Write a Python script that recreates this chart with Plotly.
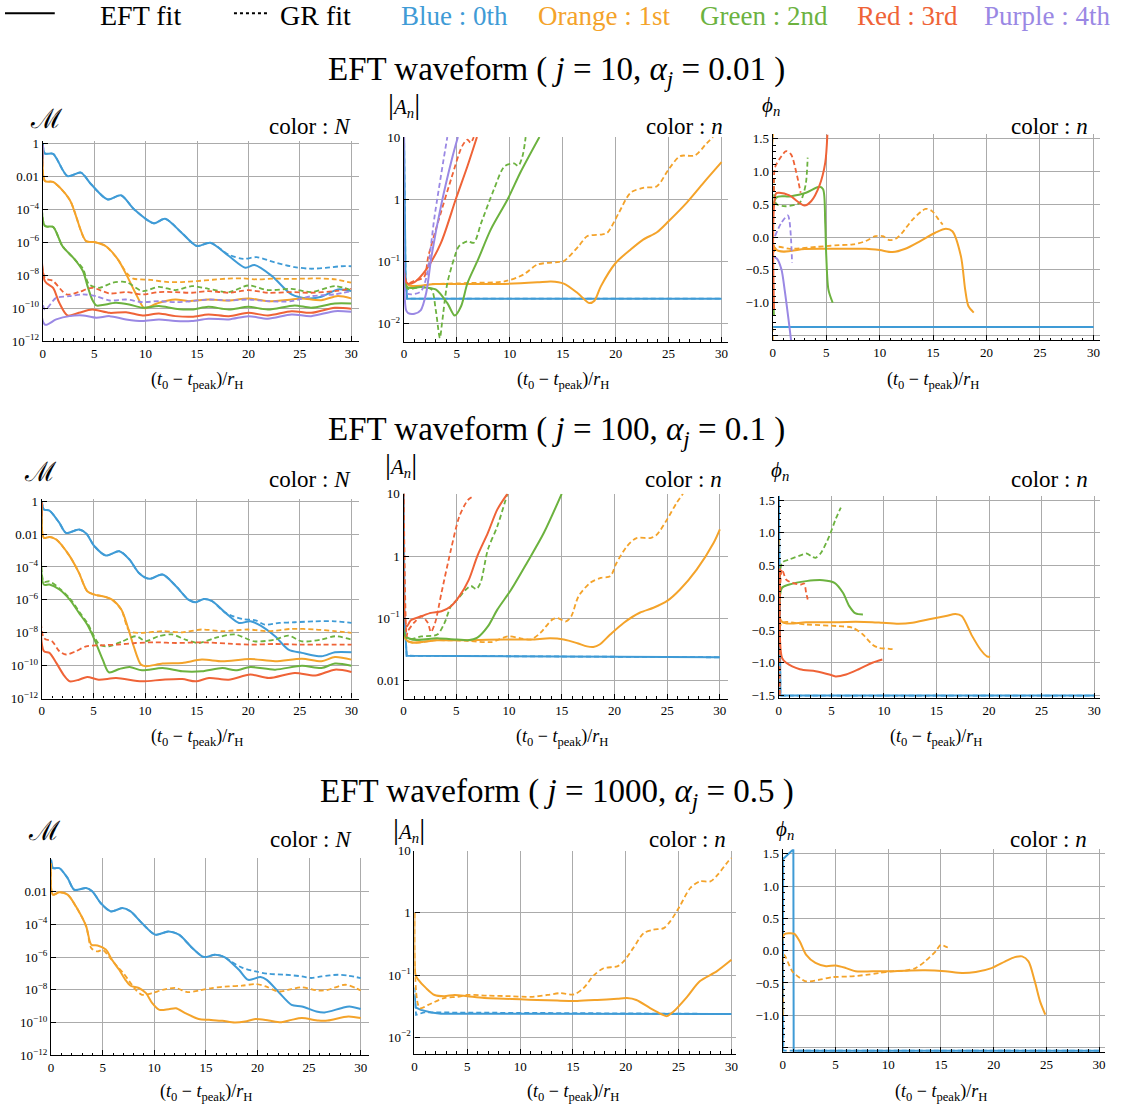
import numpy as np
import plotly.graph_objects as go

W, H = 1125, 1106
FONT = "Liberation Serif"
BLUE, ORANGE, GREEN, RED, PURPLE = "#3f9bd6", "#f4a32a", "#6cb23f", "#ef6337", "#9a88e4"

# ---------------- data (t values, and log10 values for the log panels) ----------------
# Row 1 : j = 10, alpha_j = 0.01   -- mismatch M (log10)
r1M_blue_eft = ([0, 0.2, 1.0, 2.4, 3.7, 4.7, 6.3, 7.6, 8.9, 10.8, 11.9, 13.5, 15.0, 16.3, 18.1, 19.7, 20.6, 22.3, 24.2, 25.8, 27.1, 28.7, 30],
                [0, -0.6, -0.62, -1.97, -1.76, -2.47, -3.39, -3.14, -4.0, -4.84, -4.56, -5.41, -6.22, -6.02, -6.83, -7.54, -7.38, -8.05, -9.16, -9.4, -9.3, -8.86, -8.96])
r1M_blue_gr = ([0, 0.2, 1.0, 2.4, 3.7, 4.7, 6.3, 7.6, 8.9, 10.8, 11.9, 13.5, 15.0, 16.3, 18.1, 19.5, 20.8, 22.5, 24.5, 26.0, 27.5, 29.0, 30],
               [0, -0.6, -0.62, -1.97, -1.76, -2.47, -3.39, -3.14, -4.0, -4.84, -4.56, -5.41, -6.22, -6.02, -6.75, -7.0, -6.9, -7.2, -7.5, -7.6, -7.55, -7.45, -7.45])
r1M_orange_eft = ([0, 0.2, 1.0, 2.6, 4.2, 5.0, 6.1, 7.3, 8.2, 9.0, 9.8, 10.0, 11.3, 12.9, 14.2, 16.1, 18.1, 20.0, 21.9, 24.2, 25.2, 27.1, 28.7, 30],
                  [-0.1, -2.27, -2.33, -3.39, -5.92, -5.98, -6.22, -7.03, -8.05, -9.06, -9.97, -10.0, -9.67, -9.47, -9.57, -9.47, -9.53, -9.41, -9.57, -9.47, -9.41, -9.51, -9.26, -9.40])
r1M_orange_gr = ([0, 0.2, 1.0, 2.6, 4.2, 5.0, 6.1, 7.3, 8.2, 8.8, 9.5, 10.5, 12, 13.5, 15, 16.5, 18, 19.5, 21, 22.5, 24, 25.5, 27, 28.5, 30],
                 [-0.1, -2.27, -2.33, -3.39, -5.92, -5.98, -6.22, -7.03, -7.9, -8.2, -8.25, -8.28, -8.4, -8.41, -8.35, -8.27, -8.2, -8.19, -8.25, -8.2, -8.22, -8.2, -8.19, -8.25, -8.45])
r1M_green_eft = ([0, 0.2, 1.0, 1.9, 3.1, 3.9, 4.35, 4.8, 5.2, 5.8, 7.1, 8.4, 9.7, 11.3, 12.9, 14.5, 16.1, 18.1, 20, 21.9, 24.5, 26.1, 28.4, 30],
                 [-0.1, -5.0, -5.06, -6.22, -7.03, -7.74, -8.66, -9.47, -9.83, -9.81, -9.67, -9.77, -9.97, -9.87, -10.03, -10.08, -9.91, -10.08, -9.91, -10.08, -9.83, -9.97, -9.71, -9.71])
r1M_green_gr = ([0, 0.2, 1.0, 1.9, 3.1, 3.9, 4.5, 5.5, 6.8, 8.1, 9.7, 11.3, 12.9, 14.5, 16.1, 18.1, 20, 21.9, 24.2, 26.1, 28.4, 30],
                [-0.1, -5.0, -5.06, -6.22, -7.03, -7.6, -8.55, -8.76, -8.45, -8.41, -8.96, -8.7, -8.9, -8.66, -8.82, -9.02, -8.62, -8.9, -8.82, -9.02, -8.66, -8.9])
r1M_red_eft = ([0, 0.2, 1.0, 1.6, 2.4, 3.5, 4.8, 6.5, 8.1, 9.7, 11.3, 12.9, 14.5, 16.1, 18.1, 20, 21.9, 24.2, 26.1, 28.4, 30],
               [-0.1, -8.35, -8.76, -9.67, -10.44, -10.28, -10.08, -10.28, -10.24, -10.44, -10.32, -10.48, -10.52, -10.38, -10.48, -10.28, -10.44, -10.18, -10.28, -9.97, -10.03])
r1M_red_gr = ([0, 0.2, 1.0, 2.3, 3.5, 4.8, 6.5, 8.1, 9.7, 11.3, 12.9, 14.5, 16.1, 18.1, 20, 21.9, 24.2, 26.1, 28.4, 30],
              [-0.1, -8.15, -8.35, -9.16, -9.02, -8.76, -9.1, -9.02, -9.16, -9.02, -9.02, -9.06, -8.96, -9.06, -8.9, -9.06, -9.02, -9.06, -8.96, -8.82])
r1M_purple_eft = ([0, 0.2, 1.3, 2.6, 3.9, 5.2, 6.5, 8.1, 9.7, 11.3, 12.9, 14.5, 16.1, 18.1, 20, 21.9, 24.2, 26.1, 28.4, 30],
                  [-0.1, -11.0, -10.68, -10.48, -10.44, -10.58, -10.48, -10.68, -10.78, -10.68, -10.78, -10.78, -10.64, -10.68, -10.48, -10.64, -10.38, -10.48, -10.18, -10.22])
r1M_purple_gr = ([0, 0.2, 1.3, 2.6, 3.9, 5.2, 6.5, 8.1, 9.7, 11.3, 12.9, 14.5, 16.1, 18.1, 20, 21.9, 24.2, 26.1, 28.4, 30],
                 [-0.1, -10.07, -9.37, -9.27, -9.16, -9.27, -9.53, -9.47, -9.63, -9.57, -9.63, -9.57, -9.47, -9.53, -9.47, -9.57, -9.57, -9.27, -9.16, -8.96])

# Row 1 -- |A_n| (log10)
r1A_blue_eft = ([0, 0.15, 0.3, 30], [1.3, -1.2, -1.598, -1.598])
r1A_blue_gr = ([0, 0.15, 0.3, 30], [1.3, -1.2, -1.598, -1.598])
r1A_orange_eft = ([0, 0.3, 3, 6, 9.5, 12.6, 13.9, 15.1, 16.4, 17.5, 18.0, 18.6, 20.0, 21.4, 22.6, 23.9, 25.0, 26.7, 28.3, 30],
                  [1.3, -1.36, -1.36, -1.36, -1.36, -1.335, -1.32, -1.355, -1.507, -1.668, -1.63, -1.40, -1.024, -0.81, -0.648, -0.53, -0.353, -0.057, 0.265, 0.597])
r1A_orange_gr = ([0, 0.3, 3, 6.3, 9.5, 11.3, 12.6, 14.5, 15.1, 16.5, 17.3, 18.6, 19.2, 20.3, 21.4, 22.6, 23.9, 25.0, 26.1, 27.5, 28.6, 29.2],
                 [1.3, -1.36, -1.36, -1.345, -1.32, -1.21, -1.05, -1.01, -0.995, -0.755, -0.594, -0.567, -0.54, -0.218, 0.104, 0.184, 0.21, 0.48, 0.694, 0.705, 0.9, 1.0])
r1A_green_eft = ([0, 0.3, 1.6, 3.0, 4.1, 4.8, 5.4, 6.0, 7.0, 8.2, 9.8, 11.0, 12.8],
                 [1.3, -1.41, -1.41, -1.45, -1.67, -1.87, -1.72, -1.35, -0.97, -0.487, 0.0, 0.43, 1.0])
r1A_green_gr = ([0, 0.3, 1.6, 2.6, 3.0, 3.4, 3.6, 4.1, 4.8, 5.2, 6.0, 6.6, 7.3, 8.5, 9.5, 10.4, 10.8, 11.2, 11.5],
                [1.3, -1.43, -1.41, -1.45, -1.77, -2.23, -1.99, -1.35, -0.92, -0.755, -0.675, -0.70, -0.38, 0.157, 0.53, 0.576, 0.535, 0.69, 1.0])
r1A_red_eft = ([0, 0.3, 1.0, 2.1, 3.5, 4.9, 6.0, 6.9], [1.3, -1.35, -1.33, -1.13, -0.70, 0.0, 0.53, 1.0])
r1A_red_gr = ([0, 0.3, 1.0, 1.9, 2.3, 3.2, 4.45, 5.5, 6.0, 6.3, 6.6], [1.3, -1.35, -1.31, -1.25, -0.92, -0.38, 0.32, 0.855, 0.96, 0.91, 1.0])
r1A_purple_eft = ([0, 0.2, 0.4, 1.0, 1.6, 2.1, 2.6, 3.5, 4.6, 5.1], [1.3, -1.78, -1.83, -1.84, -1.78, -1.51, -0.92, -0.11, 0.69, 1.0])
r1A_purple_gr = ([0, 0.2, 0.7, 1.6, 2.1, 2.9, 3.7, 4.1], [1.3, -1.5, -1.53, -1.48, -1.27, -0.27, 0.59, 1.0])

# Row 1 -- phase phi_n
r1P_blue_eft = ([0, 30], [-1.37, -1.37])
r1P_blue_gr = ([0, 30], [-1.37, -1.37])
r1P_orange_eft = ([0, 0.3, 3, 6.2, 8.7, 10, 11.2, 12.4, 13.8, 15.2, 16.2, 16.8, 17.6, 18.0, 18.3, 18.8],
                  [1.57, -0.19, -0.18, -0.178, -0.178, -0.198, -0.228, -0.178, -0.06, 0.066, 0.127, 0.09, -0.29, -0.80, -1.05, -1.15])
r1P_orange_gr = ([0, 0.3, 1.6, 5, 6.2, 7.5, 8.7, 9.6, 10.3, 10.9, 11.5, 12.1, 13.1, 14.3, 14.9, 15.5, 15.9],
                 [-1.57, -0.16, -0.178, -0.137, -0.122, -0.112, -0.06, 0.015, 0.015, -0.046, -0.025, 0.066, 0.27, 0.43, 0.396, 0.27, 0.19])
r1P_green_eft = ([0.1, 0.3, 1.6, 3.1, 4.35, 4.7, 4.9, 5.0, 5.2, 5.6], [-1.2, 0.6, 0.62, 0.675, 0.766, 0.73, 0.22, -0.29, -0.80, -1.0])
r1P_green_gr = ([0.1, 0.3, 1.2, 2.5, 2.8, 3.1, 3.26], [0.9, 0.51, 0.47, 0.52, 0.625, 0.83, 1.21])
r1P_red_eft = ([0.1, 0.3, 0.6, 1.55, 2.5, 2.95, 3.6, 4.35, 4.9, 5.1], [-1.1, 0.665, 0.675, 0.635, 0.52, 0.48, 0.55, 0.78, 1.13, 1.56])
r1P_red_gr = ([0.1, 0.2, 0.8, 1.24, 1.7, 2.2, 2.6], [0.7, 1.06, 1.23, 1.31, 1.26, 0.98, 0.675])
r1P_purple_eft = ([0.15, 0.4, 0.8, 1.1, 1.5, 1.7], [-0.3, -0.33, -0.49, -0.8, -1.3, -1.57])
r1P_purple_gr = ([0.2, 0.8, 1.4, 1.55, 1.7, 1.8], [0.015, 0.22, 0.33, 0.25, -0.03, -0.39])

# Row 2 : j = 100, alpha_j = 0.1  -- M (log10)
r2M_blue_eft = ([0, 0.2, 0.74, 1.7, 2.35, 3.6, 4.3, 5.1, 6.2, 7.5, 8.5, 9.4, 10.4, 11.7, 13.0, 14.2, 14.9, 15.7, 16.5, 17.8, 19.1, 20.2, 21.2, 22.6, 23.9, 25.2, 27.1, 28.4, 30],
                [0, -0.5, -0.57, -1.32, -1.93, -1.72, -1.96, -2.74, -3.30, -3.04, -3.55, -4.36, -4.72, -4.46, -5.17, -5.98, -6.14, -5.94, -6.08, -6.79, -7.40, -7.30, -7.56, -8.21, -9.02, -9.22, -9.43, -9.18, -9.18])
r2M_blue_gr = ([0, 0.2, 0.74, 1.7, 2.35, 3.6, 4.3, 5.1, 6.2, 7.5, 8.5, 9.4, 10.4, 11.7, 13.0, 14.2, 14.9, 15.7, 16.5, 17.8, 19.4, 20.7, 21.6, 23.0, 24.5, 26.5, 28.4, 30],
               [0, -0.5, -0.57, -1.32, -1.93, -1.72, -1.96, -2.74, -3.30, -3.04, -3.55, -4.36, -4.72, -4.46, -5.17, -5.98, -6.14, -5.94, -6.08, -6.79, -7.16, -7.24, -7.5, -7.4, -7.36, -7.3, -7.3, -7.4])
r2M_orange_eft = ([0, 0.2, 0.74, 1.4, 2.7, 3.6, 4.4, 5.1, 5.9, 6.8, 7.7, 8.3, 8.9, 9.6, 10.1, 11.7, 13.6, 15.5, 17.5, 20.2, 22.6, 25.2, 27.1, 28.4, 30],
                  [-0.1, -2.23, -2.17, -2.33, -3.34, -4.36, -5.47, -5.68, -5.78, -5.98, -6.59, -7.6, -8.82, -9.93, -10.03, -9.87, -9.83, -9.63, -9.73, -9.59, -9.73, -9.57, -9.73, -9.47, -9.63])
r2M_orange_gr = ([0, 0.2, 0.74, 1.4, 2.7, 3.6, 4.4, 5.1, 5.9, 6.8, 7.7, 8.5, 9.7, 11.7, 13.6, 15.5, 17.5, 20, 22, 24.2, 26.5, 28.4, 30],
                 [-0.1, -2.23, -2.17, -2.33, -3.34, -4.36, -5.47, -5.68, -5.78, -5.98, -6.59, -7.9, -8.0, -7.9, -7.97, -7.8, -7.9, -7.8, -7.9, -7.76, -7.8, -7.9, -8.0])
r2M_green_eft = ([0, 0.2, 0.74, 1.7, 2.7, 3.6, 4.4, 5.1, 5.9, 6.5, 7.5, 8.5, 9.7, 11.7, 13.6, 15.5, 17.5, 18.8, 20.2, 22.6, 25.2, 27.1, 28.4, 30],
                 [-0.1, -5.07, -5.07, -5.37, -5.98, -6.79, -7.5, -8.41, -9.63, -10.4, -10.2, -10.08, -10.28, -10.14, -10.34, -10.34, -10.14, -10.28, -10.08, -10.24, -10.0, -10.14, -9.87, -10.0])
r2M_green_gr = ([0, 0.2, 0.74, 1.7, 2.7, 3.6, 4.4, 5.6, 6.5, 7.8, 9.1, 10.1, 11.3, 12.6, 13.9, 15.2, 16.8, 18.7, 20.6, 22.6, 23.9, 25.2, 27.1, 28.4, 30],
                [-0.1, -4.9, -4.87, -5.3, -5.9, -6.7, -7.4, -8.72, -8.82, -8.52, -8.21, -8.5, -8.21, -8.1, -8.41, -8.62, -8.31, -8.1, -8.52, -8.41, -8.17, -8.52, -8.41, -8.21, -8.41])
r2M_red_eft = ([0, 0.2, 0.74, 1.4, 2.2, 2.7, 3.6, 4.4, 5.5, 7.2, 9.7, 11.7, 13.6, 14.9, 16.2, 18.1, 20.2, 22.0, 24.5, 26.5, 28.4, 30],
               [-0.1, -9.12, -9.22, -9.83, -10.64, -10.95, -10.85, -10.68, -10.85, -10.75, -10.95, -10.85, -10.81, -10.95, -10.75, -10.85, -10.54, -10.75, -10.44, -10.6, -10.24, -10.38])
r2M_red_gr = ([0, 0.2, 1.0, 1.7, 2.35, 3.3, 4.3, 5.6, 7.2, 9.1, 11.0, 13.0, 15.5, 18.1, 20.2, 22.6, 25.2, 27.1, 30],
              [-0.1, -8.31, -8.52, -9.12, -9.32, -9.12, -8.82, -8.76, -8.72, -8.62, -8.58, -8.62, -8.58, -8.66, -8.72, -8.68, -8.72, -8.72, -8.72])

# Row 2 -- |A_n| (log10)
r2A_blue_eft = ([0, 0.1, 0.3, 30], [1.3, -1.0, -1.6, -1.625])
r2A_blue_gr = ([0, 0.1, 0.3, 30], [1.3, -1.0, -1.6, -1.625])
r2A_orange_eft = ([0, 0.3, 3.2, 6.4, 9.5, 12.1, 13.9, 15.2, 16.5, 17.4, 18.0, 18.6, 19.6, 20.9, 22.4, 23.7, 25.0, 26.2, 27.8, 29.4, 30],
                  [1.3, -1.35, -1.35, -1.35, -1.34, -1.34, -1.32, -1.34, -1.40, -1.45, -1.46, -1.42, -1.26, -1.07, -0.91, -0.83, -0.72, -0.54, -0.216, 0.21, 0.43])
r2A_orange_gr = ([0, 0.3, 3.2, 6.1, 8.3, 9.9, 11.1, 12.1, 13.0, 14.1, 14.6, 15.4, 15.9, 16.6, 17.7, 18.7, 19.6, 20.2, 21.2, 22.1, 23.4, 24.0, 25.0, 25.9, 26.5],
                 [1.3, -1.35, -1.35, -1.36, -1.38, -1.29, -1.32, -1.34, -1.23, -1.02, -0.995, -1.05, -0.97, -0.645, -0.43, -0.35, -0.325, -0.11, 0.16, 0.29, 0.29, 0.34, 0.59, 0.855, 1.0])
r2A_green_eft = ([0, 0.3, 3.2, 5.1, 6.1, 7.0, 8.0, 8.9, 10.2, 11.7, 13.3, 15.0],
                 [1.3, -1.30, -1.32, -1.34, -1.35, -1.31, -1.13, -0.86, -0.54, -0.11, 0.37, 1.0])
r2A_green_gr = ([0, 0.3, 1.7, 3.2, 3.9, 4.5, 5.1, 5.9, 6.4, 6.9, 7.3, 8.0, 8.9, 9.85],
                [1.3, -1.32, -1.29, -1.26, -1.07, -0.80, -0.70, -0.54, -0.48, -0.53, -0.43, 0.105, 0.48, 1.0])
r2A_red_eft = ([0, 0.3, 0.7, 1.7, 2.6, 3.6, 4.5, 5.3, 6.2, 7.0, 8.0, 8.9, 9.85],
               [1.3, -1.13, -1.03, -0.966, -0.912, -0.885, -0.805, -0.644, -0.377, 0.0, 0.373, 0.75, 1.0])
r2A_red_gr = ([0, 0.3, 0.4, 1.0, 1.7, 2.3, 2.6, 3.0, 3.6, 4.5, 5.3, 6.1, 6.5],
              [1.3, -1.29, -1.21, -1.07, -0.966, -1.07, -1.22, -1.07, -0.59, 0.105, 0.64, 0.9, 0.95])

# Row 2 -- phase
r2P_blue_eft = ([0, 0.15, 30], [1.57, -1.505, -1.505])
r2P_blue_gr = ([0, 0.15, 30], [1.57, -1.505, -1.505])
r2P_orange_eft = ([0, 0.3, 2.6, 5.7, 7.3, 8.9, 9.85, 11.4, 12.7, 14.3, 15.9, 16.8, 17.4, 18.4, 19.2, 19.8, 20.1],
                  [0.9, -0.37, -0.375, -0.375, -0.37, -0.375, -0.385, -0.40, -0.385, -0.33, -0.28, -0.25, -0.28, -0.59, -0.80, -0.90, -0.91])
r2P_orange_gr = ([0, 0.3, 2.6, 5.7, 7.0, 8.0, 8.9, 9.5, 10.5, 11.1], [-0.6, -0.385, -0.41, -0.437, -0.46, -0.565, -0.72, -0.77, -0.785, -0.796])
r2P_green_eft = ([0, 0.3, 1.0, 2.6, 4.2, 5.3, 6.1, 6.7, 7.3, 8.0], [-0.5, 0.154, 0.205, 0.257, 0.272, 0.231, 0.077, -0.128, -0.241, -0.257])
r2P_green_gr = ([0.1, 0.3, 1.0, 2.3, 2.6, 3.2, 3.5, 4.0, 4.8, 5.4, 5.9], [0.2, 0.54, 0.59, 0.668, 0.683, 0.632, 0.616, 0.69, 0.95, 1.21, 1.39])
r2P_red_eft = ([0.1, 0.3, 0.7, 2.0, 3.5, 4.8, 5.4, 6.4, 7.6, 8.9, 9.85], [0.45, -0.925, -1.0, -1.1, -1.13, -1.18, -1.21, -1.18, -1.10, -1.0, -0.95])
r2P_red_gr = ([0.1, 0.3, 0.7, 1.3, 2.1, 2.4, 2.6, 2.75], [-1.5, 0.437, 0.28, 0.23, 0.205, 0.22, 0.077, -0.026])

# Row 3 : j = 1000, alpha_j = 0.5  -- M (log10)
r3M_blue_eft = ([0, 0.2, 0.8, 1.6, 2.25, 3.4, 4.0, 4.8, 5.8, 6.9, 7.7, 8.8, 10.1, 11.4, 12.4, 13.7, 14.8, 15.9, 16.8, 18.2, 19.1, 20.3, 20.9, 22.0, 23.3, 24.3, 25.7, 26.5, 28.1, 28.9, 30],
                [-0.07, -0.58, -0.58, -1.19, -1.9, -1.8, -2.0, -2.71, -3.22, -3.02, -3.22, -3.93, -4.64, -4.44, -4.64, -5.46, -6.0, -5.86, -6.0, -6.78, -7.39, -7.22, -7.39, -8.1, -8.91, -9.01, -9.32, -9.38, -9.12, -9.01, -9.17])
r3M_blue_gr = ([0, 0.2, 0.8, 1.6, 2.25, 3.4, 4.0, 4.8, 5.8, 6.9, 7.7, 8.8, 10.1, 11.4, 12.4, 13.7, 14.8, 15.9, 16.8, 17.5, 18.5, 19.8, 21.0, 22.7, 24.3, 25.2, 26.2, 27.8, 28.8, 30],
               [-0.07, -0.58, -0.58, -1.19, -1.9, -1.8, -2.0, -2.71, -3.22, -3.02, -3.22, -3.93, -4.64, -4.44, -4.64, -5.46, -6.0, -5.86, -6.0, -6.3, -6.65, -6.88, -7.02, -7.08, -7.18, -7.28, -7.18, -7.08, -7.14, -7.28])
r3M_orange_eft = ([0, 0.16, 0.8, 1.6, 2.4, 3.4, 3.9, 4.5, 5.3, 5.9, 6.6, 7.2, 7.7, 8.5, 9.2, 9.8, 10.5, 11.4, 12.1, 13.0, 14.3, 15.3, 16.6, 17.8, 18.8, 19.8, 21.1, 22.3, 23.3, 24.3, 25.9, 26.8, 28.8, 30],
                  [-0.3, -2.2, -2.06, -2.2, -2.91, -4.13, -5.25, -5.3, -5.54, -6.17, -6.78, -7.39, -7.75, -7.89, -8.2, -8.81, -9.22, -9.18, -9.12, -9.42, -9.78, -9.83, -9.89, -9.99, -9.93, -9.78, -9.87, -9.97, -9.83, -9.72, -9.87, -9.87, -9.62, -9.72])
r3M_orange_gr = ([0, 0.16, 0.8, 1.6, 2.4, 3.4, 3.9, 4.5, 5.0, 5.6, 6.4, 7.0, 7.6, 8.2, 8.8, 9.8, 10.8, 12.1, 13.2, 14.3, 15.6, 17.2, 18.5, 19.8, 20.8, 22.0, 23.3, 24.3, 25.9, 26.8, 28.5, 29.5, 30],
                 [-0.3, -2.2, -2.06, -2.2, -2.91, -4.13, -5.46, -5.66, -5.56, -5.96, -6.57, -6.98, -7.49, -8.0, -8.3, -8.2, -8.0, -7.89, -8.14, -8.04, -7.89, -7.79, -7.75, -7.65, -7.79, -8.1, -7.96, -7.85, -8.04, -8.0, -7.69, -7.89, -8.04])

# Row 3 -- |A_n| (log10)
r3A_blue_eft = ([0, 0.1, 0.6, 1.6, 2.5, 30], [-1.3, -1.52, -1.56, -1.6, -1.62, -1.625])
r3A_blue_gr = ([0, 0.15, 0.9, 30], [-1.2, -1.64, -1.60, -1.625])
r3A_orange_eft = ([0, 0.1, 0.3, 1.1, 1.9, 2.8, 3.8, 5.0, 6.6, 8.5, 10.0, 11.6, 13.5, 15.4, 17.3, 19.2, 20.1, 21.0, 22.3, 23.4, 23.9, 24.5, 25.8, 27.0, 28.6, 30],
                  [0.0, -1.0, -1.06, -1.21, -1.32, -1.34, -1.32, -1.34, -1.37, -1.38, -1.39, -1.40, -1.41, -1.415, -1.40, -1.38, -1.37, -1.40, -1.53, -1.63, -1.66, -1.59, -1.35, -1.10, -0.94, -0.755])
r3A_orange_gr = ([0, 0.5, 1.3, 2.8, 4.1, 5.0, 6.9, 9.1, 11.0, 12.6, 13.8, 15.1, 16.0, 17.0, 17.9, 19.2, 19.8, 20.7, 21.7, 22.6, 23.6, 24.2, 25.1, 26.1, 27.0, 28.0, 28.7, 29.7, 30],
                 [0.0, -1.53, -1.48, -1.37, -1.35, -1.32, -1.33, -1.34, -1.35, -1.32, -1.29, -1.31, -1.21, -1.0, -0.89, -0.86, -0.78, -0.567, -0.326, -0.27, -0.245, -0.137, 0.104, 0.4, 0.506, 0.506, 0.614, 0.83, 0.88])

# Row 3 -- phase
r3P_blue_eft = ([0, 0.03, 1.0, 1.03, 30], [-1.55, 1.42, 1.57, -1.55, -1.55])
r3P_blue_gr = ([0, 0.05, 30], [1.45, -1.55, -1.55])
r3P_orange_eft = ([0.0, 0.1, 0.6, 1.1, 1.6, 2.2, 3.1, 4.1, 5.0, 6.0, 6.9, 8.5, 10.0, 11.6, 13.5, 15.4, 17.0, 18.3, 19.8, 21.1, 22.0, 22.7, 23.3, 23.9, 24.4, 24.9],
                  [-1.0, 0.25, 0.27, 0.26, 0.145, -0.06, -0.19, -0.24, -0.23, -0.27, -0.32, -0.32, -0.32, -0.31, -0.305, -0.32, -0.346, -0.33, -0.27, -0.165, -0.10, -0.088, -0.165, -0.475, -0.785, -0.99])
r3P_orange_gr = ([0.0, 0.1, 0.9, 1.6, 2.2, 3.5, 4.7, 6.3, 7.9, 9.1, 10.4, 11.6, 12.6, 13.5, 14.5, 15.0, 15.4, 15.9],
                 [-0.8, -0.06, -0.32, -0.42, -0.475, -0.45, -0.41, -0.40, -0.375, -0.346, -0.32, -0.31, -0.27, -0.165, -0.01, 0.093, 0.067, 0.03])

# tick labels
M_tickvals = [1, 1e-2, 1e-4, 1e-6, 1e-8, 1e-10, 1e-12]
M_ticktext = ["1", "0.01", "10<sup>−4</sup>", "10<sup>−6</sup>", "10<sup>−8</sup>", "10<sup>−10</sup>", "10<sup>−12</sup>"]
A_tickvals = [10, 1, 0.1, 0.01]
A_ticktext_a = ["10", "1", "10<sup>−1</sup>", "10<sup>−2</sup>"]
A_ticktext_b = ["10", "1", "10<sup>−1</sup>", "0.01"]
P_tickvals = [1.5, 1.0, 0.5, 0.0, -0.5, -1.0, -1.5]
P_ticktext_a = ["1.5", "1.0", "0.5", "0.0", "−0.5", "−1.0", ""]
P_ticktext_b = ["1.5", "1.0", "0.5", "0.0", "−0.5", "−1.0", "−1.5"]
x_tickvals = [0, 5, 10, 15, 20, 25, 30]
row_titles = ["EFT waveform ( <i>j</i> = 10, <i>α<sub>j</sub></i> = 0.01 )",
              "EFT waveform ( <i>j</i> = 100, <i>α<sub>j</sub></i> = 0.1 )",
              "EFT waveform ( <i>j</i> = 1000, <i>α<sub>j</sub></i> = 0.5 )"]


# vertical placement correction (measured offset/scale of the rendered page)
def Y(y):
    return (y - 7.7) / 0.986


# ---------------- layout of the 9 panels (pixel boxes) ----------------
# (x0, x1, ytop, ybot, xrange, yrange, kind, ticktext)
panels = [
    (40, 358, 141.8, 341.7, [0, 30.8], [-12, 0.15], "M", M_ticktext),
    (402.7, 728.1, 137.7, 342.3, [0, 30.6], [-2.29, 1.0], "A", A_ticktext_a),
    (773.3, 1101.7, 134.6, 340.8, [0, 30.6], [-1.571, 1.571], "P", P_ticktext_a),
    (39, 358, 499.2, 699, [0, 30.77], [-12, 0.15], "M", M_ticktext),
    (402.3, 728, 494.3, 699.1, [0, 30.75], [-2.29, 1.0], "A", A_ticktext_b),
    (779.3, 1101.7, 496.3, 698.2, [0, 30.54], [-1.54, 1.571], "P", P_ticktext_b),
    (48.3, 368, 858.4, 1055.7, [0, 30.84], [-12, 0.03], "M", M_ticktext[1:]),
    (413.3, 736.7, 851, 1054.3, [0, 30.47], [-2.27, 1.0], "A", A_ticktext_a),
    (783.3, 1106.7, 849.6, 1052.3, [0, 30.54], [-1.571, 1.571], "P", P_ticktext_a),
]

series = [
    # panel index, data, color, is_gr, shape
    (0, r1M_blue_gr, BLUE, 1, "spline"), (0, r1M_blue_eft, BLUE, 0, "spline"),
    (0, r1M_orange_gr, ORANGE, 1, "spline"), (0, r1M_orange_eft, ORANGE, 0, "spline"),
    (0, r1M_green_gr, GREEN, 1, "spline"), (0, r1M_green_eft, GREEN, 0, "spline"),
    (0, r1M_red_gr, RED, 1, "spline"), (0, r1M_red_eft, RED, 0, "spline"),
    (0, r1M_purple_gr, PURPLE, 1, "spline"), (0, r1M_purple_eft, PURPLE, 0, "spline"),
    (1, r1A_blue_eft, BLUE, 0, "linear"), (1, r1A_blue_gr, BLUE, 1, "linear"),
    (1, r1A_orange_gr, ORANGE, 1, "spline"), (1, r1A_orange_eft, ORANGE, 0, "spline"),
    (1, r1A_green_gr, GREEN, 1, "spline"), (1, r1A_green_eft, GREEN, 0, "spline"),
    (1, r1A_red_gr, RED, 1, "spline"), (1, r1A_red_eft, RED, 0, "spline"),
    (1, r1A_purple_gr, PURPLE, 1, "spline"), (1, r1A_purple_eft, PURPLE, 0, "spline"),
    (2, r1P_blue_eft, BLUE, 0, "linear"), (2, r1P_blue_gr, BLUE, 1, "linear"),
    (2, r1P_orange_gr, ORANGE, 1, "spline"), (2, r1P_orange_eft, ORANGE, 0, "spline"),
    (2, r1P_green_gr, GREEN, 1, "spline"), (2, r1P_green_eft, GREEN, 0, "spline"),
    (2, r1P_red_gr, RED, 1, "spline"), (2, r1P_red_eft, RED, 0, "spline"),
    (2, r1P_purple_gr, PURPLE, 1, "spline"), (2, r1P_purple_eft, PURPLE, 0, "spline"),
    (3, r2M_blue_gr, BLUE, 1, "spline"), (3, r2M_blue_eft, BLUE, 0, "spline"),
    (3, r2M_orange_gr, ORANGE, 1, "spline"), (3, r2M_orange_eft, ORANGE, 0, "spline"),
    (3, r2M_green_gr, GREEN, 1, "spline"), (3, r2M_green_eft, GREEN, 0, "spline"),
    (3, r2M_red_gr, RED, 1, "spline"), (3, r2M_red_eft, RED, 0, "spline"),
    (4, r2A_blue_eft, BLUE, 0, "linear"), (4, r2A_blue_gr, BLUE, 1, "linear"),
    (4, r2A_orange_gr, ORANGE, 1, "spline"), (4, r2A_orange_eft, ORANGE, 0, "spline"),
    (4, r2A_green_gr, GREEN, 1, "spline"), (4, r2A_green_eft, GREEN, 0, "spline"),
    (4, r2A_red_gr, RED, 1, "spline"), (4, r2A_red_eft, RED, 0, "spline"),
    (5, r2P_blue_eft, BLUE, 0, "linear"), (5, r2P_blue_gr, BLUE, 1, "linear"),
    (5, r2P_orange_gr, ORANGE, 1, "spline"), (5, r2P_orange_eft, ORANGE, 0, "spline"),
    (5, r2P_green_gr, GREEN, 1, "spline"), (5, r2P_green_eft, GREEN, 0, "spline"),
    (5, r2P_red_gr, RED, 1, "spline"), (5, r2P_red_eft, RED, 0, "spline"),
    (6, r3M_blue_gr, BLUE, 1, "spline"), (6, r3M_blue_eft, BLUE, 0, "spline"),
    (6, r3M_orange_gr, ORANGE, 1, "spline"), (6, r3M_orange_eft, ORANGE, 0, "spline"),
    (7, r3A_blue_eft, BLUE, 0, "linear"), (7, r3A_blue_gr, BLUE, 1, "linear"),
    (7, r3A_orange_gr, ORANGE, 1, "spline"), (7, r3A_orange_eft, ORANGE, 0, "spline"),
    (8, r3P_blue_eft, BLUE, 0, "linear"), (8, r3P_blue_gr, BLUE, 1, "linear"),
    (8, r3P_orange_gr, ORANGE, 1, "spline"), (8, r3P_orange_eft, ORANGE, 0, "spline"),
]

fig = go.Figure()
GRID = "#ababab"
layout = dict(autosize=True, margin=dict(l=0, r=0, t=0, b=0), paper_bgcolor="white",
              plot_bgcolor="white", showlegend=False, font=dict(family=FONT, size=13, color="black"))

for i, (x0, x1, yt, yb, xr, yr, kind, ttext) in enumerate(panels):
    k = "" if i == 0 else str(i + 1)
    xa = dict(domain=[x0 / W, x1 / W], range=xr, anchor="y" + k, tickmode="array", tickvals=x_tickvals,
              showgrid=True, gridcolor=GRID, gridwidth=1, zeroline=False, showline=True, linecolor="black",
              linewidth=1.3, ticks="inside", ticklen=5, tickcolor="black", tickfont=dict(family=FONT, size=13),
              minor=dict(dtick=1, tick0=0, ticks="inside", ticklen=2.5, tickcolor="black", showgrid=False))
    ya = dict(domain=[1 - Y(yb) / H, 1 - Y(yt) / H], range=yr, anchor="x" + k, showgrid=True, gridcolor=GRID,
              gridwidth=1, zeroline=False, showline=True, linecolor="black", linewidth=1.3, ticks="inside",
              ticklen=5, tickcolor="black", tickfont=dict(family=FONT, size=13), tickmode="array")
    if kind == "M":
        ya.update(type="log", tickvals=M_tickvals[-len(ttext):], ticktext=ttext)
    elif kind == "A":
        ya.update(type="log", tickvals=A_tickvals, ticktext=ttext)
    else:
        ya.update(tickvals=P_tickvals, ticktext=ttext,
                  minor=dict(dtick=0.1, tick0=0, ticks="inside", ticklen=2.5, tickcolor="black", showgrid=False))
    layout["xaxis" + k] = xa
    layout["yaxis" + k] = ya

for pi, (tt, vv), color, is_gr, shape in series:
    k = "" if pi == 0 else str(pi + 1)
    kind = panels[pi][6]
    t = np.array(tt, dtype=float)
    v = np.array(vv, dtype=float)
    y = 10 ** v if kind in ("M", "A") else v
    line = dict(color=color, width=2 if not is_gr else 1.8, shape=shape)
    if shape == "spline":
        line["smoothing"] = 0.8
    if is_gr:
        line["dash"] = "5px,3px"
    fig.add_trace(go.Scatter(x=t, y=y, mode="lines", line=line, xaxis="x" + k, yaxis="y" + k,
                             hoverinfo="skip"))

ann = []


def text(s, x, y, size, color="black", xanchor="center"):
    ann.append(dict(text=s, x=x / W, y=1 - Y(y) / H, xref="paper", yref="paper", showarrow=False,
                    xanchor=xanchor, yanchor="middle", font=dict(family=FONT, size=size, color=color)))


# top legend
text("EFT fit", 95, 16.5, 28, xanchor="left")
text("GR fit", 276, 16.5, 28, xanchor="left")
text("Blue : 0th", 398, 16.5, 27, BLUE, "left")
text("Orange : 1st", 535, 16.5, 27, ORANGE, "left")
text("Green : 2nd", 698, 16.5, 27, GREEN, "left")
text("Red : 3rd", 856, 16.5, 27, RED, "left")
text("Purple : 4th", 983, 16.5, 27, PURPLE, "left")
LY = 1 - Y(14) / H
shapes = [dict(type="line", xref="paper", yref="paper", x0=2 / W, x1=52 / W, y0=LY, y1=LY,
               line=dict(color="black", width=2)),
          dict(type="line", xref="paper", yref="paper", x0=232 / W, x1=268 / W, y0=LY, y1=LY,
               line=dict(color="black", width=2, dash="dot"))]

# row titles
for title, yy in zip(row_titles, [72, 432, 794]):
    text(title, 556, yy, 33)

# panel labels
labels = [
    [(44, 120), (352, 127), (403, 105), (725, 127), (771, 107), (1092, 127)],
    [(38, 472), (352, 480), (400, 464), (724, 480), (780, 471), (1092, 480)],
    [(42, 831), (353, 840), (408, 829), (728, 840), (785, 830), (1091, 840)],
]
BAR = "<span style='font-size:30px'>|</span>"
xtitle_y = [381, 738, 1093]
for r in range(3):
    L = labels[r]
    text("ℳ", L[0][0], L[0][1], 27)
    text("color : <i>N</i>", L[1][0], L[1][1], 23, xanchor="right")
    text(BAR + "<i>A<sub>n</sub></i>" + BAR, L[2][0], L[2][1], 21)
    text("color : <i>n</i>", L[3][0], L[3][1], 23, xanchor="right")
    text("<i>ϕ<sub>n</sub></i>", L[4][0], L[4][1], 21)
    text("color : <i>n</i>", L[5][0], L[5][1], 23, xanchor="right")
    for c in range(3):
        x0, x1, yt, yb, xr, yr, kind, tt = panels[3 * r + c]
        xmid = x0 + (x1 - x0) * 15 / xr[1]
        text("(<i>t</i><sub>0</sub> − <i>t</i><sub>peak</sub>)/<i>r</i><sub>H</sub>", xmid, xtitle_y[r], 18)

layout["annotations"] = ann
layout["shapes"] = shapes
fig.update_layout(**layout)
fig.write_html("out.html", config={"displayModeBar": False, "responsive": False},
               default_width=f"{W}px; position:absolute; left:0; top:0", default_height=f"{H}px")
